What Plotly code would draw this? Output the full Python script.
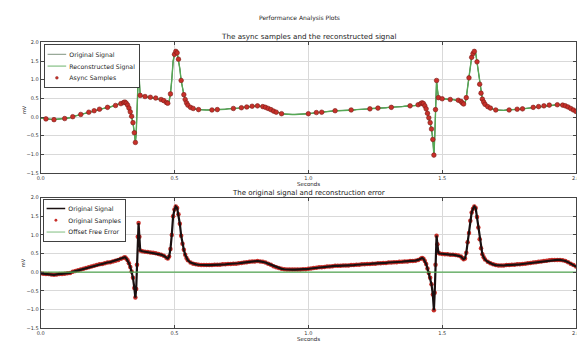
import plotly.graph_objects as go

# page is 585x341; the HTML body has an 8px default margin, so the figure is
# sized to fill the rest and page pixel p maps to figure pixel p - 8
PAGE_OFF = 8
W, H = 585 - PAGE_OFF, 341 - PAGE_OFF

# ---------------- data ----------------
sig_t = [0.00, 0.01, 0.02, 0.03, 0.04, 0.05, 0.06, 0.07, 0.08, 0.09,
         0.10, 0.11, 0.12, 0.13, 0.14, 0.15, 0.16, 0.17, 0.18, 0.19,
         0.20, 0.21, 0.22, 0.23, 0.24, 0.25, 0.26, 0.27, 0.28, 0.29,
         0.30, 0.31, 0.315, 0.32, 0.325, 0.33, 0.335, 0.34, 0.345, 0.35,
         0.354, 0.357, 0.36, 0.363, 0.366, 0.369, 0.372, 0.38, 0.39, 0.40,
         0.41, 0.42, 0.43, 0.44, 0.45, 0.46, 0.47, 0.475, 0.48, 0.485,
         0.49, 0.495, 0.50, 0.505, 0.51, 0.515, 0.52, 0.525, 0.53, 0.535,
         0.54, 0.545, 0.55, 0.56, 0.57, 0.58, 0.59, 0.60, 0.61, 0.62,
         0.63, 0.64, 0.65, 0.66, 0.67, 0.68, 0.69, 0.70, 0.71, 0.72,
         0.73, 0.74, 0.75, 0.76, 0.77, 0.78, 0.79, 0.80, 0.81, 0.82,
         0.83, 0.84, 0.85, 0.86, 0.87, 0.88, 0.89, 0.90, 0.91, 0.92,
         0.93, 0.94, 0.95, 0.96, 0.97, 0.98, 0.99, 1.00, 1.01, 1.02,
         1.03, 1.04, 1.05, 1.06, 1.07, 1.08, 1.09, 1.10, 1.11, 1.12,
         1.13, 1.14, 1.15, 1.16, 1.17, 1.18, 1.19, 1.20, 1.21, 1.22,
         1.23, 1.24, 1.25, 1.26, 1.27, 1.28, 1.29, 1.30, 1.31, 1.32,
         1.33, 1.34, 1.35, 1.36, 1.37, 1.38, 1.39, 1.40, 1.41, 1.42,
         1.425, 1.43, 1.435, 1.44, 1.445, 1.45, 1.455, 1.46, 1.465, 1.469,
         1.472, 1.475, 1.479, 1.482, 1.486, 1.49, 1.50, 1.51, 1.52, 1.53,
         1.54, 1.55, 1.56, 1.57, 1.575, 1.58, 1.585, 1.59, 1.595, 1.60,
         1.605, 1.61, 1.615, 1.62, 1.625, 1.63, 1.635, 1.64, 1.645, 1.65,
         1.655, 1.66, 1.67, 1.68, 1.69, 1.70, 1.71, 1.72, 1.73, 1.74,
         1.75, 1.76, 1.77, 1.78, 1.79, 1.80, 1.81, 1.82, 1.83, 1.84,
         1.85, 1.86, 1.87, 1.88, 1.89, 1.90, 1.91, 1.92, 1.93, 1.94,
         1.95, 1.96, 1.97, 1.98, 1.99, 2.00]
sig_v = [-0.03, -0.04, -0.05, -0.05, -0.06, -0.07, -0.06, -0.05, -0.05, -0.04,
         -0.03, -0.02, 0.01, 0.03, 0.05, 0.07, 0.09, 0.11, 0.13, 0.15,
         0.17, 0.19, 0.21, 0.22, 0.24, 0.26, 0.27, 0.29, 0.31, 0.33,
         0.36, 0.39, 0.40, 0.37, 0.32, 0.24, 0.14, 0.02, -0.15, -0.42,
         -0.68, -0.45, 0.20, 0.95, 1.32, 0.95, 0.58, 0.56, 0.55, 0.54,
         0.53, 0.52, 0.51, 0.49, 0.47, 0.44, 0.39, 0.37, 0.42, 0.62,
         1.00, 1.50, 1.68, 1.76, 1.72, 1.55, 1.30, 0.98, 0.76, 0.60,
         0.47, 0.38, 0.32, 0.26, 0.23, 0.21, 0.20, 0.19, 0.19, 0.19,
         0.19, 0.19, 0.20, 0.20, 0.20, 0.21, 0.21, 0.22, 0.22, 0.23,
         0.23, 0.24, 0.25, 0.26, 0.27, 0.28, 0.29, 0.29, 0.30, 0.29,
         0.28, 0.26, 0.23, 0.20, 0.16, 0.13, 0.11, 0.09, 0.08, 0.07,
         0.07, 0.07, 0.07, 0.07, 0.07, 0.08, 0.08, 0.09, 0.10, 0.11,
         0.12, 0.13, 0.13, 0.14, 0.15, 0.15, 0.16, 0.17, 0.17, 0.17,
         0.18, 0.18, 0.18, 0.19, 0.19, 0.20, 0.20, 0.21, 0.21, 0.22,
         0.22, 0.23, 0.23, 0.24, 0.24, 0.25, 0.25, 0.26, 0.26, 0.27,
         0.27, 0.28, 0.28, 0.29, 0.29, 0.30, 0.30, 0.31, 0.33, 0.36,
         0.38, 0.36, 0.30, 0.22, 0.10, -0.02, -0.15, -0.32, -0.60, -1.02,
         -0.55, 0.20, 0.98, 0.75, 0.52, 0.50, 0.49, 0.48, 0.48, 0.47,
         0.47, 0.46, 0.45, 0.42, 0.38, 0.35, 0.37, 0.52, 0.80, 1.05,
         1.38, 1.60, 1.70, 1.76, 1.72, 1.48, 1.20, 0.88, 0.64, 0.48,
         0.40, 0.34, 0.28, 0.24, 0.21, 0.19, 0.18, 0.18, 0.18, 0.19,
         0.19, 0.20, 0.20, 0.21, 0.21, 0.22, 0.23, 0.24, 0.25, 0.26,
         0.27, 0.28, 0.29, 0.30, 0.31, 0.32, 0.33, 0.33, 0.33, 0.33,
         0.32, 0.30, 0.27, 0.23, 0.19, 0.15]

async_t = [0.02, 0.05, 0.09, 0.12, 0.15, 0.18, 0.20, 0.22, 0.25, 0.28,
           0.30, 0.31, 0.315, 0.32, 0.325, 0.33, 0.335, 0.34, 0.345, 0.35,
           0.354, 0.372, 0.39, 0.41, 0.43, 0.45, 0.46, 0.47, 0.475, 0.485,
           0.50, 0.505, 0.51, 0.515, 0.525, 0.535, 0.54, 0.545, 0.55, 0.56,
           0.57, 0.59, 0.64, 0.66, 0.72, 0.75, 0.77, 0.79, 0.81, 0.83,
           0.84, 0.85, 0.86, 0.87, 0.88, 0.90, 1.00, 1.03, 1.05, 1.10,
           1.16, 1.23, 1.26, 1.31, 1.38, 1.41, 1.42, 1.425, 1.43, 1.435,
           1.44, 1.445, 1.45, 1.455, 1.46, 1.465, 1.469, 1.475, 1.479, 1.486,
           1.50, 1.53, 1.56, 1.57, 1.575, 1.58, 1.59, 1.60, 1.61, 1.615,
           1.62, 1.63, 1.64, 1.645, 1.65, 1.655, 1.66, 1.67, 1.68, 1.70,
           1.75, 1.78, 1.80, 1.84, 1.86, 1.88, 1.90, 1.93, 1.95, 1.96,
           1.97, 1.98, 1.99, 2.00]
async_v = [-0.05, -0.07, -0.04, 0.01, 0.07, 0.13, 0.17, 0.21, 0.26, 0.31,
           0.36, 0.39, 0.40, 0.37, 0.32, 0.24, 0.14, 0.02, -0.15, -0.42,
           -0.68, 0.58, 0.55, 0.53, 0.51, 0.47, 0.44, 0.39, 0.37, 0.62,
           1.68, 1.76, 1.72, 1.55, 0.98, 0.60, 0.47, 0.38, 0.32, 0.26,
           0.23, 0.20, 0.19, 0.20, 0.23, 0.25, 0.27, 0.29, 0.30, 0.28,
           0.26, 0.23, 0.20, 0.16, 0.13, 0.09, 0.09, 0.12, 0.13, 0.17,
           0.19, 0.22, 0.24, 0.26, 0.30, 0.33, 0.36, 0.38, 0.36, 0.30,
           0.22, 0.10, -0.02, -0.15, -0.32, -0.60, -1.02, 0.20, 0.98, 0.52,
           0.49, 0.47, 0.45, 0.42, 0.38, 0.35, 0.52, 1.05, 1.60, 1.70,
           1.76, 1.48, 0.88, 0.64, 0.48, 0.40, 0.34, 0.28, 0.24, 0.19,
           0.19, 0.21, 0.22, 0.26, 0.28, 0.30, 0.32, 0.33, 0.32, 0.30,
           0.27, 0.23, 0.19, 0.15]

err_t = [0.0, 2.0]
err_v = [0.0, 0.0]

x_ticks = [0.0, 0.5, 1.0, 1.5, 2.0]
y_ticks = [-1.5, -1.0, -0.5, 0.0, 0.5, 1.0, 1.5, 2.0]

# ---------------- style ----------------
FONT = "DejaVu Sans"
RED = "#c8302a"
RED_EDGE = "#7a1d18"
GREEN = "#55a855"
BLACK = "#1a1010"
LEGEND_SCALE = 0.62


def px_x(p):
    return (p - PAGE_OFF) / W


def px_y(p):
    return 1 - (p - PAGE_OFF) / H


fig = go.Figure()

# top subplot
fig.add_trace(go.Scatter(x=sig_t, y=sig_v, mode="lines", name="Original Signal",
                         line=dict(color="#2f4f2f", width=1), xaxis="x", yaxis="y",
                         legend="legend"))
fig.add_trace(go.Scatter(x=sig_t, y=sig_v, mode="lines", name="Reconstructed Signal",
                         line=dict(color=GREEN, width=1.4), xaxis="x", yaxis="y",
                         legend="legend"))
fig.add_trace(go.Scatter(x=async_t, y=async_v, mode="markers", name="Async Samples",
                         marker=dict(color=RED, size=4.6, line=dict(color=RED_EDGE, width=0.6)),
                         xaxis="x", yaxis="y", legend="legend"))

# bottom subplot
fig.add_trace(go.Scatter(x=sig_t, y=sig_v, mode="markers", name="Original Samples",
                         marker=dict(color=RED, size=4.5, line=dict(width=0)),
                         xaxis="x2", yaxis="y2", legend="legend2", legendrank=2))
fig.add_trace(go.Scatter(x=sig_t, y=sig_v, mode="lines", name="Original Signal",
                         line=dict(color=BLACK, width=2.2), xaxis="x2", yaxis="y2",
                         legend="legend2", legendrank=1))
fig.add_trace(go.Scatter(x=err_t, y=err_v, mode="lines", name="Offset Free Error",
                         line=dict(color=GREEN, width=1.2), xaxis="x2", yaxis="y2",
                         legend="legend2", legendrank=3))

axis_common = dict(
    showline=True, linecolor="#444", linewidth=1, mirror="ticks",
    ticks="inside", ticklen=3, tickcolor="#444", tickwidth=0.8,
    showgrid=True, gridcolor="#d9d9d9", gridwidth=0.8,
    zeroline=False, tickfont=dict(size=5, family=FONT, color="#333"),
    tickformat=".1f",
)

top_dom_y = [px_y(173), px_y(40)]
bot_dom_y = [px_y(331), px_y(198)]
dom_x = [px_x(37), px_x(580)]

legend_common = dict(
    xanchor="left", yanchor="top", bgcolor="white", bordercolor="#333",
    borderwidth=1.5, font=dict(size=10, family=FONT, color="#222"),
    itemwidth=30, tracegroupgap=0,
)

fig.update_layout(
    width=W, height=H, autosize=False,
    margin=dict(l=0, r=0, t=0, b=0),
    paper_bgcolor="white", plot_bgcolor="white",
    font=dict(family=FONT, color="#222"),
    showlegend=True,
    xaxis=dict(axis_common, domain=dom_x, range=[0, 2.0], tickvals=x_ticks, anchor="y"),
    yaxis=dict(axis_common, domain=top_dom_y, range=[-1.5, 2.0], tickvals=y_ticks, anchor="x"),
    xaxis2=dict(axis_common, domain=dom_x, range=[0, 2.0], tickvals=x_ticks, anchor="y2"),
    yaxis2=dict(axis_common, domain=bot_dom_y, range=[-1.5, 2.0], tickvals=y_ticks, anchor="x2"),
    legend=dict(legend_common, x=px_x(40), y=px_y(42)),
    legend2=dict(legend_common, x=px_x(39), y=px_y(199)),
)

annots = [
    ("Performance Analysis Plots", 300, 15, 6, 0),
    ("The async samples and the reconstructed signal", 309, 34, 7.2, 0),
    ("Seconds", 309, 184, 5.5, 0),
    ("The original signal and reconstruction error", 309, 193, 7, 0),
    ("Seconds", 309, 342, 5.5, 0),
    ("mV", 20, 108, 5, -90),
    ("mV", 20, 264, 5, -90),
]
for txt, ax_, ay_, sz, ang in annots:
    fig.add_annotation(text=txt, x=px_x(ax_), y=px_y(ay_), xref="paper", yref="paper",
                       showarrow=False, xanchor="center", yanchor="middle",
                       textangle=ang, font=dict(size=sz, family=FONT, color="#222"))

# shrink the (real) plotly legends so their rows are as compact as the reference's
post_js = """
var gd = document.getElementById('{plot_id}');
function shrinkLegends() {
  gd.querySelectorAll('g.legend, g.legend2').forEach(function (g) {
    var t = (g.getAttribute('transform') || '').replace(/\\s*scale\\([^)]*\\)/, '');
    g.setAttribute('transform', t + ' scale(%s)');
  });
}
shrinkLegends();
gd.on('plotly_afterplot', shrinkLegends);
""" % LEGEND_SCALE

fig.write_html("out.html", post_script=post_js)
